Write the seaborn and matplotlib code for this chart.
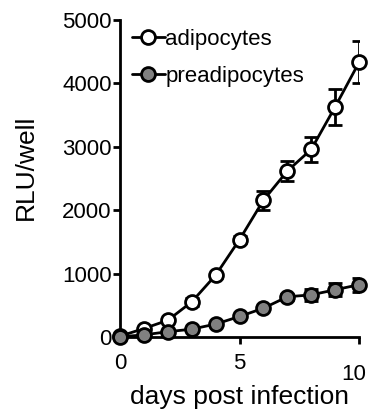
import numpy as np
import pandas as pd
import matplotlib
matplotlib.use('Agg')
import matplotlib.pyplot as plt
import matplotlib.transforms as mtransforms
import seaborn as sns

# days post infection
days = [0, 1, 2, 3, 4, 5, 6, 7, 8, 9, 10]
# RLU/well, adipocytes
adipo = [20, 140, 270, 560, 980, 1540, 2160, 2620, 2960, 3630, 4330]
adipo_err = [10, 20, 30, 60, 40, 60, 150, 150, 200, 280, 330]
# RLU/well, preadipocytes
preadipo = [10, 40, 90, 130, 210, 330, 460, 640, 670, 750, 830]
preadipo_err = [10, 10, 10, 20, 20, 20, 30, 50, 90, 100, 110]

sns.set_theme(style="ticks")
plt.rcParams['font.family'] = ['Liberation Sans', 'DejaVu Sans']
plt.rcParams['text.color'] = 'black'
plt.rcParams['axes.labelcolor'] = 'black'

df = pd.DataFrame({
    'day': days * 2,
    'rlu': adipo + preadipo,
    'cell': ['adipocytes'] * len(days) + ['preadipocytes'] * len(days),
})

fig, ax = plt.subplots(figsize=(3.74, 4.13), dpi=100)
fig.subplots_adjust(left=0.321, right=0.96, bottom=0.183, top=0.952)

# error bars first so markers sit on top
ax.errorbar(days, adipo, yerr=adipo_err, fmt='none', ecolor='black',
            elinewidth=2, capsize=5, capthick=2, zorder=2)
ax.errorbar(days, preadipo, yerr=preadipo_err, fmt='none', ecolor='black',
            elinewidth=2, capsize=5, capthick=2, zorder=2)

sns.lineplot(data=df[df.cell == 'adipocytes'], x='day', y='rlu', ax=ax,
             color='black', linewidth=2, marker='o', markersize=10,
             markerfacecolor='white', markeredgecolor='black', markeredgewidth=2,
             label='adipocytes', zorder=3, clip_on=False)
sns.lineplot(data=df[df.cell == 'preadipocytes'], x='day', y='rlu', ax=ax,
             color='black', linewidth=2, marker='o', markersize=10,
             markerfacecolor='#808080', markeredgecolor='black', markeredgewidth=2,
             label='preadipocytes', zorder=4, clip_on=False)

ax.set_xlim(0, 10)
ax.set_ylim(0, 5000)
ax.set_xticks([0, 5, 10])
ax.set_yticks([0, 1000, 2000, 3000, 4000, 5000])
ax.set_xlabel('days post infection', fontsize=19, labelpad=0)
ax.set_ylabel('RLU/well', fontsize=19)
ax.yaxis.set_label_coords(-0.345, 0.535)
ax.tick_params(axis='both', labelsize=16, width=2, length=5, direction='out',
               color='black', labelcolor='black')
ax.tick_params(axis='x', pad=6)
ax.tick_params(axis='y', pad=1)
for side in ['left', 'bottom']:
    ax.spines[side].set_linewidth(2)
    ax.spines[side].set_color('black')
sns.despine(ax=ax)

# the "10" label sits lower in the original
lab = ax.get_xticklabels()[-1]
lab.set_transform(lab.get_transform() + mtransforms.ScaledTranslation(-4 / 72, -8 / 72, fig.dpi_scale_trans))

leg = ax.legend(loc='upper left', bbox_to_anchor=(0.01, 1.0), frameon=False,
                fontsize=16, handlelength=1.5, handletextpad=0.0,
                borderaxespad=0.0, borderpad=0.42, labelspacing=0.72)

fig.savefig('out.png', dpi=100)
